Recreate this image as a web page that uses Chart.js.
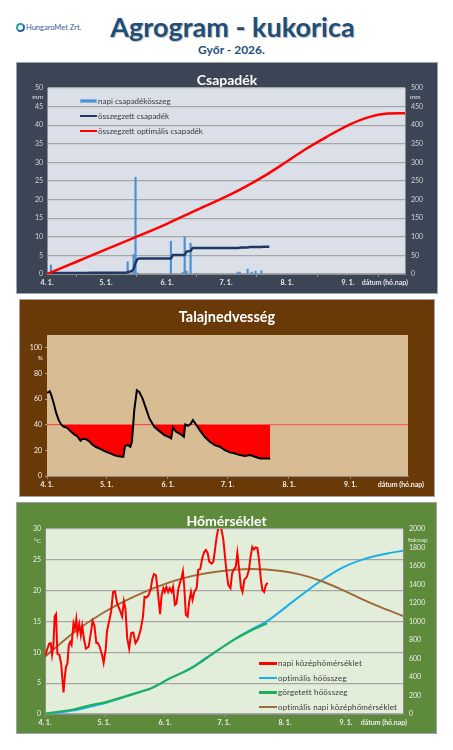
<!DOCTYPE html>
<html>
<head>
<meta charset="utf-8">
<title>Agrogram - kukorica</title>
<script src="https://cdn.jsdelivr.net/npm/chart.js@4.4.1/dist/chart.umd.min.js"></script>
<style>
  html, body { margin: 0; padding: 0; background: #fff; }
  body { width: 453px; height: 750px; position: relative; overflow: hidden; font-family: Lato, 'Open Sans', sans-serif; }
  .abs { position: absolute; }
  #logo { left: 16px; top: 23px; font-size: 7.5px; line-height: 9px; color: #3A5A92; display: flex; align-items: center; }
  #logo i { display: inline-block; width: 5px; height: 5px; border: 2px solid; border-color: #22A8A2 #2F5AA8 #2F5AA8 #22A8A2; border-radius: 50%; margin-right: 1px; }
  #title { left: 0; width: 465px; top: 13px; text-align: center; font-size: 27px; line-height: 27px; font-weight: bold; color: #1F4E79; text-shadow: 1px 1px 1px rgba(0,0,0,0.25); }
  #subtitle { left: 0; width: 463px; top: 44px; text-align: center; font-size: 12px; line-height: 12px; font-weight: bold; color: #1F4E79; }
  .panel { box-shadow: 0 0 0 1px #A0A4AA; }
  .panel canvas { position: absolute; left: 0; top: 0; }
  .ptitle { position: absolute; left: 0; right: 0; text-align: center; color: #fff; font-weight: bold; line-height: 1; z-index: 2; }
  #p1 { left: 17px; top: 63px; width: 420px; height: 230px; background: #3B4555; }
  #p2 { left: 20px; top: 300px; width: 414px; height: 196px; background: #6A3908; }
  #p3 { left: 17px; top: 503px; width: 419px; height: 230px; background: #5E8B3B; }
  .legend { position: absolute; font-size: 8px; color: #3A3A3A; z-index: 3; }
  .lrow { display: flex; align-items: center; white-space: nowrap; }
  .sw { display: inline-block; margin-right: 1px; }
</style>
</head>
<body>
<div id="logo" class="abs"><i></i>HungaroMet Zrt.</div>
<div id="title" class="abs">Agrogram - kukorica</div>
<div id="subtitle" class="abs">Győr - 2026.</div>

<div id="p1" class="abs panel">
  <div class="ptitle" style="top:10px;font-size:14px">Csapadék</div>
  <canvas id="rainChart" width="420" height="230"></canvas>
</div>
<div id="lg1" class="legend" style="left:80px;top:93px"></div>

<div id="p2" class="abs panel">
  <div class="ptitle" style="top:10px;font-size:14.5px">Talajnedvesség</div>
  <canvas id="soilChart" width="414" height="196"></canvas>
</div>

<div id="p3" class="abs panel">
  <div class="ptitle" style="top:11px;font-size:14px">Hőmérséklet</div>
  <canvas id="tempChart" width="419" height="230"></canvas>
</div>
<div id="lg3" class="legend" style="left:259px;top:656px;letter-spacing:0.15px"></div>

<script>
// days counted from April 1
const xMin = 0;
const xMax = 182;
const monthDays = [0, 30, 61, 91, 122, 153];
const monthLabels = ['4. 1.', '5. 1.', '6. 1.', '7. 1.', '8. 1.', '9. 1.'];
const dateAxisTitle = 'dátum (hó.nap)';

// Csapadék
const rainTicksL = [0, 5, 10, 15, 20, 25, 30, 35, 40, 45, 50];
const rainTicksR = [0, 50, 100, 150, 200, 250, 300, 350, 400, 450, 500];
const rainDays = [2, 18, 21, 37, 41, 44, 45, 46, 63, 69, 70, 71, 73, 76, 97, 98, 102, 104, 106, 109];
const rainVals = [2.4, 0.5, 0.5, 0.3, 3.3, 5.2, 26.0, 0.3, 8.8, 0.4, 10.0, 0.8, 8.3, 0.2, 0.5, 0.5, 1.3, 0.5, 0.8, 0.9];
const rainSumDays = [0, 2, 3, 18, 19, 21, 22, 40, 41, 43, 44, 45, 46, 47, 63, 64, 69, 70, 71, 72, 73, 74, 97, 99, 102, 103, 109, 110, 113];
const rainSumVals = [0, 0, 2.4, 2.4, 3, 3, 3.5, 3.5, 4.5, 7.5, 12.5, 30, 40, 42, 42, 51, 51, 52, 60, 61.5, 62, 70, 70, 71, 71, 72.5, 72.5, 73.5, 73.5];
const rainOptDays = [0, 15, 30, 45, 61, 76, 91, 101, 111, 121, 131, 142, 152, 162, 172, 182];
const rainOptVals = [0, 33, 66, 99, 135, 172, 208, 235, 265, 299, 334, 368, 397, 419, 431, 432];

// Talajnedvesség
const soilTicks = [0, 20, 40, 60, 80, 100];
const soilMax = 110;
const soilLimit = 40;
const soilDays = [0, 1.4, 2.2, 3.4, 4.7, 5.9, 7.1, 8.5, 10.2, 11.8, 13.5, 15.2, 16.9, 17.8, 19.5, 21.2, 22.8, 24.5, 27.1, 28.8, 30.5, 32.1, 33.8, 35.5, 37.7, 38.5, 39.3, 40.9, 42, 42.8, 44, 45.3, 46.5, 48.2, 49.9, 51.6, 54.1, 56.7, 59.2, 61.8, 62.6, 63.5, 65.1, 67.3, 69, 69.7, 71.1, 72.4, 73.6, 74.8, 77, 79.5, 82.1, 84.6, 87.1, 89.7, 92.2, 94.8, 97.3, 99.8, 102.4, 104.9, 107.4, 110, 112.5];
const soilVals = [64.9, 66.1, 63, 56.5, 48.8, 43.6, 40.2, 38.4, 37.6, 35, 32.7, 31.1, 27.5, 28.8, 28.8, 27.2, 24.6, 22.8, 21, 19.7, 18.4, 17.6, 16.3, 15.6, 15, 15, 23.3, 24.1, 22.8, 26.7, 51.4, 66.9, 65.6, 60.4, 52.7, 44.9, 38.4, 35, 31.9, 30.1, 29.3, 37.9, 34.5, 32.7, 30.6, 40.2, 39.2, 40.5, 43.6, 41, 35.8, 30.6, 26.7, 24.1, 22.8, 20.2, 18.4, 17.6, 16.3, 15.6, 16.3, 15, 13.7, 13.7, 13.7];

// Hőmérséklet
const tempTicksL = [0, 5, 10, 15, 20, 25, 30];
const tempTicksR = [0, 200, 400, 600, 800, 1000, 1200, 1400, 1600, 1800, 2000];
const tempDays = [0, 0.9, 2.1, 2.9, 3.6, 4.3, 4.9, 5.6, 6.3, 7.3, 8.2, 9.4, 10.1, 10.7, 11.4, 12.1, 12.8, 13.5, 14.5, 15.2, 15.9, 16.5, 17.4, 18.2, 18.9, 19.9, 20.8, 22.2, 23, 24.2, 25.1, 26.1, 26.9, 27.8, 29, 29.8, 30.9, 31.5, 32.7, 33.6, 34.6, 35.6, 36.7, 38, 39.2, 40.1, 40.9, 41.8, 42.8, 43.8, 44.9, 46, 47.2, 48.6, 49.8, 50.6, 51.7, 52.7, 53.7, 54.5, 55.4, 56.4, 57.1, 58.5, 59.3, 60.2, 60.9, 61.7, 62.6, 63.4, 64.3, 65.1, 66, 66.8, 67.7, 68.5, 69.4, 70.1, 70.8, 71.6, 72.5, 73.3, 74.2, 75, 75.9, 77.1, 77.9, 78.9, 80.1, 81, 81.8, 82.7, 83.5, 84.7, 85.6, 86.4, 87.3, 88.1, 89, 89.8, 90.7, 91.5, 92.4, 93.2, 94.3, 95.1, 96.1, 97, 97.8, 98.7, 99.6, 100.4, 101.4, 102.6, 103.7, 104.5, 105.4, 106.2, 107.1, 108, 108.8, 109.7, 110.5, 111.4, 112.2, 113.1];
const tempVals = [9.4, 10.3, 11.4, 11.5, 9.6, 11.2, 15.8, 16.2, 9.8, 9.6, 8.2, 3.5, 6.1, 7.7, 8.2, 11.2, 11.7, 11.2, 14.7, 13.9, 15.4, 13.1, 14.6, 12.8, 14.3, 12, 10.6, 10.9, 12.5, 15.1, 14.4, 11.5, 11.5, 10.9, 9.6, 8.3, 10.6, 13.4, 15.2, 16.6, 19.8, 19.9, 17.9, 16.9, 15.8, 18.3, 17.1, 12.3, 10.6, 13.1, 13.2, 11.5, 12.1, 13.6, 15.8, 19, 18.9, 19.3, 20.2, 21.8, 22.7, 22.5, 20.6, 16.2, 19.3, 20.4, 19.8, 20.6, 19.8, 20.4, 19.8, 20.6, 17.7, 17.9, 20.1, 21.2, 22, 23.1, 20.6, 16.1, 15.8, 18.2, 19.8, 18.5, 19.8, 20.4, 23.4, 23.5, 25.5, 26.3, 26.6, 26.1, 24.7, 24.4, 24.7, 26.6, 28.8, 30.1, 30.4, 29.8, 28.2, 25.5, 22.8, 20.9, 20.4, 22.8, 23.5, 23.9, 26.1, 23.4, 20.6, 19.8, 21.8, 22.2, 23.4, 25.5, 27.1, 26.7, 27, 26.9, 25, 22, 20.1, 19.8, 20.8, 21.3];
const heatOptDays = [0, 15, 23, 31.5, 40, 48.6, 54, 59, 62, 71, 76, 80, 88, 96, 105, 112.5, 126, 139.6, 152, 163, 174, 182];
const heatOptVals = [0, 40, 80, 125, 180, 240, 280, 330, 368, 460, 520, 580, 690, 805, 915, 998, 1215, 1430, 1590, 1680, 1735, 1765];
const heatSumDays = [0, 14.5, 23, 31.5, 40, 48.6, 54, 59, 62, 71, 76, 80, 88, 96, 105, 113];
const heatSumVals = [5, 50, 95, 133, 187, 241, 277, 332, 370, 457, 515, 570, 692, 800, 905, 980];
const tempOptDays = [0, 15, 30, 45, 61, 75, 90, 105, 120, 130, 140, 150, 160, 170, 182];
const tempOptVals = [9.3, 13.3, 16.5, 19, 21.1, 22.4, 23.2, 23.5, 23.2, 22.6, 21.6, 20.3, 18.8, 17.4, 15.9];

function pts(days, vals) {
  return days.map((d, i) => ({ x: d, y: vals[i] }));
}

Chart.defaults.font.family = 'Lato';

// plot background and the small extra captions
const decor = {
  id: 'decor',
  beforeDraw(chart, args, o) {
    const a = chart.chartArea, ctx = chart.ctx;
    ctx.save();
    ctx.fillStyle = o.bg;
    ctx.fillRect(a.left, a.top, a.right - a.left, a.bottom - a.top);
    ctx.restore();
  },
  afterDraw(chart, args, o) {
    const a = chart.chartArea, ctx = chart.ctx;
    ctx.save();
    ctx.fillStyle = o.color;
    ctx.textBaseline = 'middle';
    ctx.textAlign = 'right';
    ctx.font = 'bold 7px Lato';
    ctx.fillText(dateAxisTitle, a.right + o.dateDx, a.bottom + 9);
    ctx.font = '6.5px Lato';
    (o.units || []).forEach(u => {
      const s = chart.scales[u.axis];
      const y = s.getPixelForValue(u.at) + u.dy;
      if (s.position === 'left') {
        ctx.textAlign = 'right';
        ctx.fillText(u.text, a.left - 4, y);
      } else {
        ctx.textAlign = 'left';
        ctx.fillText(u.text, a.right + 5, y);
      }
    });
    ctx.restore();
  }
};
Chart.register(decor);

function xAxis(height, color) {
  return {
    type: 'linear', min: xMin, max: xMax, offset: false,
    afterBuildTicks: s => { s.ticks = monthDays.map(v => ({ value: v })); },
    afterFit: s => { s.height = height; },
    ticks: {
      callback: v => monthLabels[monthDays.indexOf(v)],
      color: color, font: { size: 7, weight: 'bold' }, padding: 2, maxRotation: 0, autoSkip: false
    },
    grid: { drawOnChartArea: false, drawTicks: true, tickLength: 3, color: '#8C8C8C' },
    border: { color: '#8C8C8C' }
  };
}

function yAxis(pos, tickList, max, width, color, gridColor, pad) {
  return {
    type: 'linear', position: pos, min: 0, max: max,
    afterBuildTicks: s => { s.ticks = tickList.map(v => ({ value: v })); },
    afterFit: s => { s.width = width; },
    ticks: { color: color, font: { size: 7 }, padding: pad, callback: v => String(v) },
    grid: gridColor
      ? { color: gridColor, lineWidth: 1.2, drawTicks: false }
      : { drawOnChartArea: false, drawTicks: false },
    border: { color: '#8C8C8C' }
  };
}

const lineDefaults = { point: { radius: 0 }, line: { tension: 0 } };

// Csapadék
const rainChart = new Chart(document.getElementById('rainChart'), {
  type: 'line',
  data: {
    datasets: [
      { type: 'bar', label: 'napi csapadékösszeg', data: pts(rainDays, rainVals), backgroundColor: '#4A90D2',
        borderColor: '#4A90D2', barThickness: 1.5, yAxisID: 'y', order: 3 },
      { label: 'összegzett csapadék', data: pts(rainSumDays, rainSumVals), borderColor: '#1F3864',
        borderWidth: 2.5, yAxisID: 'y2', order: 2 },
      { label: 'összegzett optimális csapadék', data: pts(rainOptDays, rainOptVals), borderColor: '#FF0000',
        borderWidth: 2.5, cubicInterpolationMode: 'monotone', yAxisID: 'y2', order: 1 }
    ]
  },
  options: {
    responsive: false, animation: false, events: [],
    elements: lineDefaults,
    layout: { padding: { top: 25, left: 0, right: 0, bottom: 0 } },
    scales: {
      x: xAxis(19, '#EDEDED'),
      y: yAxis('left', rainTicksL, 50, 30, '#D4D4D4', '#A6A6A6', 4),
      y2: yAxis('right', rainTicksR, 500, 32, '#D4D4D4', null, 6)
    },
    plugins: {
      legend: { display: false }, tooltip: { enabled: false },
      decor: { bg: '#DADFE8', color: '#E6E6E6', dateDx: 3,
        units: [{ text: 'mm', axis: 'y', at: 50, dy: 8.5 }, { text: 'mm', axis: 'y2', at: 500, dy: 8.5 }] }
    }
  }
});

// Talajnedvesség
const soilY = yAxis('left', soilTicks, soilMax, 27, '#F2F2F2', null, 3);
soilY.grid = { drawOnChartArea: false, drawTicks: true, tickLength: 2, color: '#B0A080' };
soilY.border = { display: false };

new Chart(document.getElementById('soilChart'), {
  type: 'line',
  data: {
    datasets: [
      { label: 'talajnedvesség', data: pts(soilDays, soilVals), borderColor: '#000000', borderWidth: 2,
        fill: { target: { value: soilLimit }, above: 'rgba(0,0,0,0)', below: '#FF0000' }, order: 1 },
      { label: 'határérték', data: pts([xMin, xMax], [soilLimit, soilLimit]), borderColor: '#FF4A4A',
        borderWidth: 1, order: 2 }
    ]
  },
  options: {
    responsive: false, animation: false, events: [],
    elements: lineDefaults,
    layout: { padding: { top: 35, left: 0, right: 26, bottom: 0 } },
    scales: { x: xAxis(20, '#F2F2F2'), y: soilY },
    plugins: {
      legend: { display: false }, tooltip: { enabled: false },
      decor: { bg: '#D8BD94', color: '#F2F2F2', dateDx: 16,
        units: [{ text: '%', axis: 'y', at: 100, dy: 10.5 }] }
    }
  }
});

// Hőmérséklet
const tempChart = new Chart(document.getElementById('tempChart'), {
  type: 'line',
  data: {
    datasets: [
      { label: 'napi középhőmérséklet', data: pts(tempDays, tempVals), borderColor: '#FF0000',
        borderWidth: 2, yAxisID: 'y', order: 1 },
      { label: 'optimális hőösszeg', data: pts(heatOptDays, heatOptVals), borderColor: '#1AAFE8',
        borderWidth: 2, cubicInterpolationMode: 'monotone', yAxisID: 'y2', order: 4 },
      { label: 'görgetett hőösszeg', data: pts(heatSumDays, heatSumVals), borderColor: '#1DAF55',
        borderWidth: 2, cubicInterpolationMode: 'monotone', yAxisID: 'y2', order: 3 },
      { label: 'optimális napi középhőmérséklet', data: pts(tempOptDays, tempOptVals), borderColor: '#9E6B3B',
        borderWidth: 2, cubicInterpolationMode: 'monotone', yAxisID: 'y', order: 2 }
    ]
  },
  options: {
    responsive: false, animation: false, events: [],
    elements: lineDefaults,
    layout: { padding: { top: 26, left: 0, right: 0, bottom: 0 } },
    scales: {
      x: xAxis(19, '#EDEDED'),
      y: yAxis('left', tempTicksL, 30, 28, '#EDEDED', '#A6A6A6', 4),
      y2: yAxis('right', tempTicksR, 2000, 33, '#EDEDED', null, 6)
    },
    plugins: {
      legend: { display: false }, tooltip: { enabled: false },
      decor: { bg: '#E2EEDA', color: '#EDEDED', dateDx: 4,
        units: [{ text: '°C', axis: 'y', at: 30, dy: 12 }, { text: 'foknap', axis: 'y2', at: 2000, dy: 10.5 }] }
    }
  }
});

// legends built from the dataset labels and colours
function buildLegend(el, chart, rowH, swW, lineW) {
  chart.data.datasets.forEach(ds => {
    const row = document.createElement('div');
    row.className = 'lrow';
    row.style.height = rowH + 'px';
    const sw = document.createElement('span');
    sw.className = 'sw';
    sw.style.width = swW + 'px';
    if (ds.type === 'bar') {
      sw.style.height = '4px';
      sw.style.background = ds.backgroundColor;
      sw.style.boxShadow = 'inset 0 0 0 1px #7FB3E3';
    } else {
      sw.style.height = lineW + 'px';
      sw.style.background = ds.borderColor;
    }
    row.appendChild(sw);
    row.appendChild(document.createTextNode(ds.label));
    el.appendChild(row);
  });
}
buildLegend(document.getElementById('lg1'), rainChart, 15.2, 17, 2.5);
buildLegend(document.getElementById('lg3'), tempChart, 14.5, 18, 2.5);
</script>
</body>
</html>
